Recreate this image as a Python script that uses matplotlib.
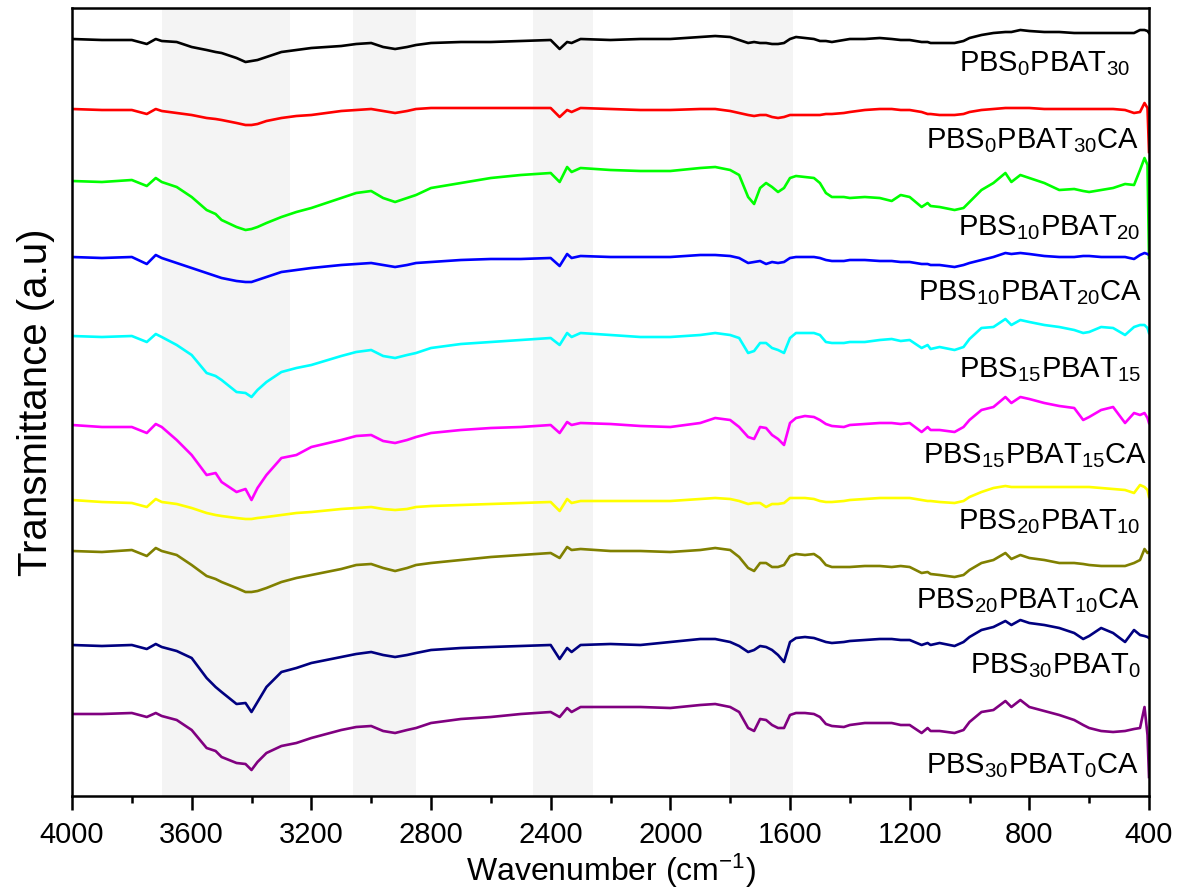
import matplotlib
matplotlib.use("Agg")
import matplotlib.pyplot as plt
from matplotlib.ticker import MultipleLocator

plt.rcParams['font.family'] = ['Liberation Sans', 'DejaVu Sans']
plt.rcParams['mathtext.fontset'] = 'custom'
plt.rcParams['mathtext.rm'] = 'Liberation Sans'
plt.rcParams['mathtext.it'] = 'Liberation Sans:italic'
plt.rcParams['mathtext.bf'] = 'Liberation Sans:bold'

# ---------------- data (wavenumber grid, cm^-1) ----------------
wavenumber = [4000, 3900, 3800, 3750, 3720, 3700, 3650, 3600, 3550, 3520,
              3500, 3450, 3420, 3400, 3380, 3350, 3300, 3250, 3200, 3100,
              3050, 3000, 2960, 2920, 2880, 2850, 2800, 2700, 2600, 2500,
              2400, 2370, 2345, 2330, 2300, 2200, 2100, 2000, 1900, 1850,
              1800, 1770, 1740, 1720, 1700, 1680, 1660, 1640, 1620, 1600,
              1580, 1550, 1520, 1500, 1480, 1460, 1420, 1400, 1350, 1300,
              1260, 1230, 1200, 1160, 1140, 1130, 1100, 1050, 1020, 1000,
              960, 920, 880, 860, 830, 800, 750, 700, 650, 620,
              600, 560, 520, 480, 450, 430, 415, 405, 400]

# transmittance (a.u., curves stacked as in the figure)
pbs0_pbat30 = [761, 760, 760, 756, 761, 759, 758, 753, 750, 748,
               747, 742, 738, 739, 740, 743, 748, 750, 752, 754,
               756, 757, 753, 751, 753, 755, 757, 758, 758, 759,
               760, 751, 758, 757, 761, 760, 761, 761, 763, 764,
               763, 760, 757, 758, 757, 757, 756, 756, 757, 761,
               763, 762, 761, 759, 759, 758, 760, 761, 761, 762,
               761, 760, 760, 758, 758, 757, 757, 757, 759, 762,
               765, 767, 768, 768, 770, 769, 768, 768, 767, 767,
               767, 767, 767, 767, 767, 770, 770, 769, 767]
pbs0_pbat30_ca = [691, 690, 690, 686, 691, 689, 687, 685, 682, 681,
                  680, 677, 675, 675, 676, 679, 682, 684, 685, 689,
                  690, 691, 689, 687, 689, 691, 692, 692, 692, 692,
                  692, 683, 690, 688, 692, 691, 690, 690, 691, 691,
                  689, 687, 685, 684, 685, 685, 683, 682, 683, 685,
                  685, 685, 685, 685, 686, 686, 687, 688, 690, 691,
                  691, 690, 690, 688, 686, 686, 685, 685, 686, 688,
                  690, 691, 692, 692, 692, 692, 691, 691, 691, 691,
                  691, 691, 691, 690, 687, 688, 697, 692, 648]
pbs10_pbat20 = [619, 618, 620, 614, 622, 618, 613, 603, 590, 586,
                580, 573, 570, 571, 573, 577, 583, 588, 592, 602,
                607, 609, 602, 598, 602, 605, 612, 617, 622, 625,
                627, 618, 633, 628, 632, 630, 629, 629, 632, 633,
                630, 625, 603, 596, 612, 617, 613, 608, 612, 622,
                624, 623, 622, 617, 607, 603, 603, 602, 603, 602,
                599, 605, 603, 593, 597, 594, 593, 590, 592, 598,
                610, 617, 627, 618, 625, 622, 617, 610, 611, 609,
                608, 610, 612, 616, 615, 630, 642, 635, 542]
pbs10_pbat20_ca = [543, 542, 543, 536, 545, 542, 537, 532, 527, 524,
                   522, 519, 518, 518, 520, 523, 528, 530, 532, 535,
                   536, 537, 535, 533, 535, 537, 538, 540, 541, 541,
                   542, 534, 546, 542, 544, 543, 543, 543, 545, 545,
                   544, 542, 537, 538, 539, 536, 538, 537, 538, 542,
                   543, 543, 543, 542, 540, 539, 539, 540, 540, 539,
                   539, 538, 538, 536, 536, 535, 535, 533, 535, 537,
                   540, 543, 547, 546, 547, 546, 544, 543, 543, 544,
                   544, 543, 543, 543, 541, 545, 547, 546, 545]
pbs15_pbat15 = [464, 463, 464, 458, 466, 463, 455, 445, 427, 424,
                420, 408, 407, 403, 410, 418, 428, 432, 435, 444,
                448, 450, 444, 442, 445, 447, 452, 456, 458, 460,
                462, 455, 467, 463, 467, 465, 463, 463, 465, 467,
                465, 462, 447, 449, 457, 457, 452, 450, 447, 462,
                467, 467, 467, 465, 458, 457, 457, 458, 458, 460,
                461, 459, 460, 452, 455, 451, 453, 450, 453, 461,
                472, 473, 481, 475, 480, 478, 475, 473, 470, 467,
                468, 473, 472, 465, 473, 475, 475, 472, 467]
pbs15_pbat15_ca = [375, 373, 373, 367, 376, 373, 360, 345, 325, 327,
                   318, 308, 311, 300, 312, 325, 342, 345, 353, 360,
                   364, 365, 359, 357, 360, 363, 367, 370, 372, 373,
                   375, 367, 378, 375, 377, 376, 374, 373, 377, 382,
                   380, 373, 363, 361, 373, 372, 365, 361, 355, 377,
                   382, 384, 383, 380, 376, 374, 373, 375, 376, 377,
                   377, 376, 377, 368, 373, 370, 370, 368, 373, 380,
                   390, 393, 403, 397, 403, 401, 397, 394, 392, 380,
                   383, 390, 393, 377, 387, 385, 387, 382, 377]
pbs20_pbat10 = [300, 298, 297, 293, 301, 298, 296, 292, 287, 285,
                284, 282, 281, 281, 282, 283, 285, 287, 288, 291,
                292, 293, 291, 290, 291, 293, 294, 295, 296, 297,
                298, 289, 301, 297, 299, 299, 299, 299, 301, 302,
                301, 299, 296, 297, 297, 293, 296, 296, 297, 302,
                302, 302, 301, 299, 298, 298, 299, 300, 301, 302,
                302, 302, 302, 300, 299, 299, 298, 297, 299, 303,
                308, 312, 314, 313, 313, 313, 313, 313, 313, 313,
                313, 312, 311, 310, 307, 315, 313, 310, 303]
pbs20_pbat10_ca = [249, 248, 250, 244, 252, 249, 245, 235, 224, 221,
                   218, 212, 208, 208, 209, 212, 218, 222, 225, 231,
                   235, 236, 232, 229, 232, 235, 237, 240, 243, 245,
                   247, 242, 253, 250, 251, 249, 249, 248, 250, 252,
                   250, 243, 232, 229, 237, 237, 233, 233, 235, 244,
                   246, 245, 246, 242, 235, 233, 233, 233, 234, 234,
                   233, 234, 233, 227, 228, 226, 225, 223, 225, 230,
                   237, 240, 247, 241, 245, 242, 240, 237, 237, 236,
                   235, 234, 234, 234, 237, 240, 251, 247, 248]
pbs30_pbat0 = [155, 154, 155, 151, 156, 153, 149, 142, 122, 113,
               108, 96, 97, 88, 98, 113, 128, 132, 137, 143,
               146, 148, 145, 143, 145, 147, 150, 152, 153, 154,
               155, 141, 152, 148, 155, 156, 155, 158, 161, 161,
               158, 154, 148, 150, 154, 153, 150, 145, 138, 158,
               162, 163, 162, 160, 158, 157, 158, 159, 160, 161,
               161, 160, 160, 155, 157, 155, 157, 154, 158, 163,
               170, 173, 179, 175, 180, 177, 175, 172, 167, 161,
               164, 172, 167, 158, 170, 165, 164, 163, 162]
pbs30_pbat0_ca = [86, 86, 87, 83, 87, 84, 80, 70, 52, 49,
                  43, 37, 36, 30, 38, 47, 54, 57, 62, 70,
                  73, 74, 69, 67, 70, 72, 77, 81, 83, 86,
                  88, 83, 92, 88, 93, 93, 93, 92, 95, 96,
                  93, 88, 72, 69, 81, 80, 75, 72, 72, 85,
                  87, 87, 86, 83, 76, 74, 73, 75, 77, 77,
                  77, 75, 75, 67, 72, 69, 69, 67, 70, 78,
                  88, 90, 99, 93, 100, 93, 89, 85, 80, 75,
                  72, 69, 68, 69, 71, 72, 93, 65, 23]

series = [pbs0_pbat30, pbs0_pbat30_ca, pbs10_pbat20, pbs10_pbat20_ca,
          pbs15_pbat15, pbs15_pbat15_ca, pbs20_pbat10, pbs20_pbat10_ca,
          pbs30_pbat0, pbs30_pbat0_ca]
labels = [r'PBS$_{0}$PBAT$_{30}$', r'PBS$_{0}$PBAT$_{30}$CA',
          r'PBS$_{10}$PBAT$_{20}$', r'PBS$_{10}$PBAT$_{20}$CA',
          r'PBS$_{15}$PBAT$_{15}$', r'PBS$_{15}$PBAT$_{15}$CA',
          r'PBS$_{20}$PBAT$_{10}$', r'PBS$_{20}$PBAT$_{10}$CA',
          r'PBS$_{30}$PBAT$_{0}$', r'PBS$_{30}$PBAT$_{0}$CA']
colors = ['#000000', '#FF0000', '#00FF00', '#0000FF', '#00FFFF',
          '#FF00FF', '#FFFF00', '#808000', '#000080', '#800080']

# shaded regions (cm^-1)
bands = [(3700, 3270), (3060, 2850), (2460, 2260), (1800, 1590)]

# label anchor (right edge wavenumber, baseline a.u.)
label_x = [464, 434, 430, 423, 427, 407, 430, 430, 427, 434]
label_y = [729, 652, 565, 500, 423, 337, 271, 192, 127, 27]

# ---------------- plot ----------------
fig = plt.figure(figsize=(11.86, 8.96), dpi=100)
ax = fig.add_axes([72/1186, 100/896, 1077/1186, 788/896])

for lo, hi in bands:
    ax.axvspan(hi, lo, color='#f4f4f4', lw=0, zorder=0)

for y, c in zip(series, colors):
    ax.plot(wavenumber, y, color=c, lw=1.9, zorder=2)

for lab, lx, ly in zip(labels, label_x, label_y):
    ax.text(lx, ly, lab, ha='right', va='baseline', fontsize=21, zorder=3)

ax.set_xlim(4000, 400)
ax.set_ylim(4, 792)
ax.xaxis.set_major_locator(MultipleLocator(400))
ax.xaxis.set_minor_locator(MultipleLocator(200))
ax.set_yticks([])
for s in ax.spines.values():
    s.set_linewidth(1.8)
ax.tick_params(axis='x', which='major', direction='out', length=10, width=1.8,
               labelsize=21, pad=8)
ax.tick_params(axis='x', which='minor', direction='out', length=5, width=1.8)

ax.set_xlabel(r'Wavenumber (cm$^{-1}$)', fontsize=23, labelpad=2)
ax.set_ylabel('Transmittance (a.u)', fontsize=29, labelpad=12)

fig.savefig('out.png', dpi=100)
